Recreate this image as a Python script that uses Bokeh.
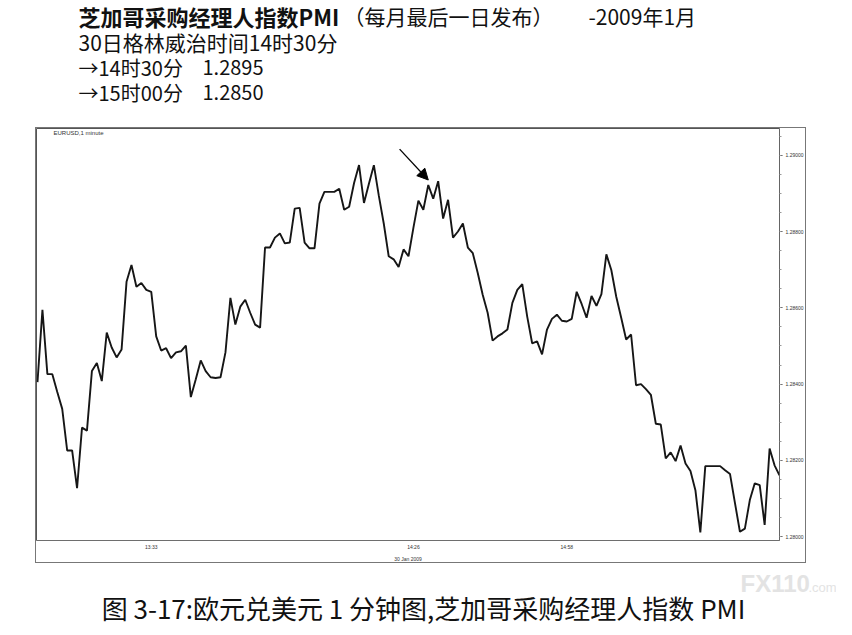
from bokeh.plotting import figure
from bokeh.layouts import column, row
from bokeh.models import (Range1d, Label, Arrow, NormalHead, Spacer,
                          FixedTicker, ColumnDataSource, NumeralTickFormatter)
from bokeh.embed import file_html
from bokeh.resources import INLINE

# ---------------- data ----------------
title_bold = "芝加哥采购经理人指数PMI"
title_paren = "（每月最后一日发布）"
title_date = "-2009年1月"
subtitle = "30日格林威治时间14时30分"
row_labels = ["→14时30分", "→15时00分"]
row_values = ["1.2895", "1.2850"]
caption = "图 3-17:欧元兑美元 1 分钟图,芝加哥采购经理人指数 PMI"
symbol_label = "EURUSD,1 minute"
date_label = "30 Jan 2009"
time_tick_pos = [23, 76, 107]
time_tick_labels = ["13:33", "14:26", "14:58"]
price_ticks = [1.28, 1.282, 1.284, 1.286, 1.288, 1.29]

eurusd = [
    1.28405, 1.28595, 1.28426, 1.28426, 1.28379, 1.28335, 1.28226, 1.28226, 1.28127, 1.28286,
    1.28278, 1.28434, 1.28455, 1.28408, 1.28535, 1.28496, 1.28470, 1.28491, 1.28668, 1.28712,
    1.28655, 1.28665, 1.28647, 1.28642, 1.28525, 1.28488, 1.28494, 1.28468, 1.28483, 1.28486,
    1.28501, 1.28366, 1.28413, 1.28462, 1.28434, 1.28418, 1.28416, 1.28418, 1.28483, 1.28626,
    1.28556, 1.28603, 1.28621, 1.28587, 1.28556, 1.28548, 1.28758, 1.28758, 1.28784, 1.28795,
    1.28769,
    1.28771, 1.28860, 1.28862, 1.28771, 1.28756, 1.28756, 1.28873, 1.28904, 1.28904, 1.28904,
    1.28912, 1.28857, 1.28865, 1.28927, 1.28974, 1.28875, 1.28925, 1.28974, 1.28894, 1.28821,
    1.28735, 1.28727, 1.28707, 1.28753, 1.28735, 1.28810, 1.28881, 1.28857, 1.28922, 1.28886,
    1.28932, 1.28834, 1.28883, 1.28784, 1.28800, 1.28821, 1.28758, 1.28743, 1.28691, 1.28634,
    1.28587, 1.28514, 1.28525, 1.28533, 1.28543, 1.28613, 1.28647, 1.28662,
    1.28577, 1.28507, 1.28512, 1.28478, 1.28543, 1.28571, 1.28582, 1.28566, 1.28564, 1.28571,
    1.28642, 1.28610, 1.28574, 1.28631, 1.28605, 1.28636, 1.28740, 1.28699, 1.28629, 1.28574,
    1.28517, 1.28530, 1.28397, 1.28400, 1.28387, 1.28372, 1.28296, 1.28294, 1.28205, 1.28221,
    1.28198, 1.28239, 1.28192, 1.28172, 1.28122, 1.28011, 1.28185, 1.28185, 1.28185, 1.28185,
    1.28174, 1.28164, 1.28088, 1.28013, 1.28021, 1.28096, 1.28140, 1.28135, 1.28031, 1.28231,
    1.28187, 1.28161,
]
minutes = list(range(len(eurusd)))

CJK = "Noto Sans CJK SC"
INK = "#111111"


def text_panel(w, h):
    f = figure(width=w, height=h, output_backend="svg", toolbar_location=None,
               x_range=Range1d(0, 1), y_range=Range1d(0, 1),
               min_border=0, x_axis_type=None, y_axis_type=None)
    f.xgrid.visible = False
    f.ygrid.visible = False
    f.outline_line_color = None
    f.background_fill_color = "white"
    f.border_fill_color = "white"
    return f


def lab(fig, x, y, text, size, bold=False, align="left", color=INK, font=CJK):
    fig.add_layout(Label(x=x, y=y, x_units="screen", y_units="screen", text=text,
                         text_font=font, text_font_size=size,
                         text_font_style="bold" if bold else "normal",
                         text_color=color, text_align=align,
                         text_baseline="middle"))


# ---------------- header ----------------
head = text_panel(836, 127)
lab(head, 78, 112, title_bold, "22px", bold=True)
lab(head, 343, 112, title_paren, "21px")
lab(head, 588, 112, title_date, "21px")
lab(head, 78, 86, subtitle, "21px")
lab(head, 78, 60, row_labels[0], "20px")
lab(head, 202, 60, row_values[0], "20px")
lab(head, 78, 35, row_labels[1], "20px")
lab(head, 202, 35, row_values[1], "20px")

# ---------------- chart ----------------
p = figure(width=771, height=436, output_backend="svg", toolbar_location=None,
           x_range=Range1d(-0.2, 150), y_range=Range1d(1.27990, 1.29070),
           y_axis_location="right",
           min_border_left=0, min_border_right=28, min_border_top=0,
           min_border_bottom=20)
p.styles = {"border": "1px solid #777777", "box-sizing": "border-box"}
p.xgrid.visible = False
p.ygrid.visible = False
p.outline_line_color = "#555555"
p.outline_line_width = 1
p.background_fill_color = "white"
p.border_fill_color = "white"

src = ColumnDataSource(dict(t=minutes, price=eurusd))
p.line(x="t", y="price", source=src, line_color="#161616", line_width=1.9)

ya = p.yaxis[0]
ya.ticker = FixedTicker(ticks=price_ticks,
                        minor_ticks=[1.28 + 0.0005 * k for k in range(22)])
ya.formatter = NumeralTickFormatter(format="0.00000")
ya.major_label_text_font_size = "5px"
ya.major_label_text_font = "Liberation Sans"
ya.major_label_text_color = "#333333"
ya.major_label_standoff = 3
ya.major_tick_in = 0
ya.major_tick_out = 3
ya.minor_tick_in = 0
ya.minor_tick_out = 2
ya.axis_line_color = "#777777"
ya.axis_line_dash = "1 1"
ya.major_tick_line_color = "#555555"
ya.minor_tick_line_color = "#999999"

xa = p.xaxis[0]
xa.ticker = FixedTicker(ticks=time_tick_pos)
xa.major_label_overrides = dict(zip(time_tick_pos, time_tick_labels))
xa.major_label_text_font_size = "5px"
xa.major_label_text_font = "Liberation Sans"
xa.major_label_text_color = "#333333"
xa.major_label_standoff = 3
xa.major_tick_in = 0
xa.major_tick_out = 0
xa.axis_line_color = "#888888"
xa.axis_line_dash = "1 1"
xa.axis_label = date_label
xa.axis_label_text_font = "Liberation Sans"
xa.axis_label_text_font_size = "5px"
xa.axis_label_text_font_style = "normal"
xa.axis_label_text_color = "#333333"
xa.axis_label_standoff = 3

p.add_layout(Label(x=17, y=408, x_units="screen", y_units="screen",
                   text=symbol_label, text_font="Liberation Sans",
                   text_font_size="6px", text_color="#333333",
                   text_baseline="middle"))

p.add_layout(Arrow(end=NormalHead(size=11, fill_color="black", line_color="black"),
                   x_start=73.2, y_start=1.29016, x_end=79.0, y_end=1.28935,
                   line_color="black", line_width=1.3))

# ---------------- caption ----------------
cap = text_panel(836, 66)
lab(cap, 423, 22, caption, "26px", align="center")
lab(cap, 740, 46, "FX110", "24px", bold=True, color="#e3e3e3", font="Liberation Sans")
lab(cap, 808, 42, ".com", "13px", color="#e3e3e3", font="Liberation Sans")

layout = column(head, row(Spacer(width=35, height=436), p), cap, spacing=0)

open("out.html", "w").write(file_html(layout, INLINE))
